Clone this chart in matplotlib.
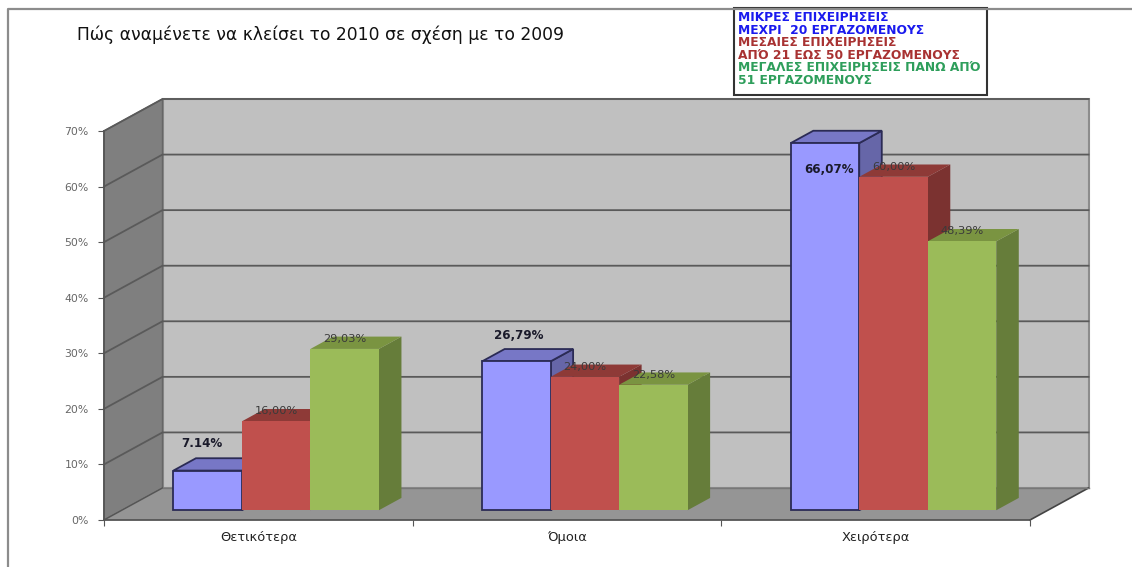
import matplotlib
matplotlib.use('Agg')
import matplotlib.pyplot as plt
from matplotlib.patches import Polygon, Rectangle
from matplotlib.lines import Line2D

W, H = 1132, 567

# Data
categories = ['Θετικότερα', 'Όμοια', 'Χειρότερα']
small_firms = [7.14, 26.79, 66.07]
medium_firms = [16.00, 24.00, 60.00]
large_firms = [29.03, 22.58, 48.39]
small_labels = ['7.14%', '26,79%', '66,07%']
medium_labels = ['16,00%', '24,00%', '60,00%']
large_labels = ['29,03%', '22,58%', '48,39%']
y_ticks = [0, 10, 20, 30, 40, 50, 60, 70]
title = 'Πώς αναμένετε να κλείσει το 2010 σε σχέση με το 2009'
legend_lines = ['ΜΙΚΡΕΣ ΕΠΙΧΕΙΡΗΣΕΙΣ', 'ΜΕΧΡΙ  20 ΕΡΓΑΖΟΜΕΝΟΥΣ',
                'ΜΕΣΑΙΕΣ ΕΠΙΧΕΙΡΗΣΕΙΣ', 'ΑΠΌ 21 ΕΩΣ 50 ΕΡΓΑΖΟΜΕΝΟΥΣ',
                'ΜΕΓΑΛΕΣ ΕΠΙΧΕΙΡΗΣΕΙΣ ΠΑΝΩ ΑΠΌ', '51 ΕΡΓΑΖΟΜΕΝΟΥΣ']
legend_colors = ['#1a1aee', '#1a1aee', '#a83232', '#a83232', '#2e9e5b', '#2e9e5b']

# Colours: front, top, side, edge
blue = ('#9999ff', '#7777c6', '#6666a8', '#2b2b55')
red = ('#c0504d', '#8e3a37', '#7b3230', '#c0504d')
green = ('#9bbb59', '#7a9441', '#667d3a', '#9bbb59')

plt.rcParams['font.family'] = ['DejaVu Sans']

fig = plt.figure(figsize=(W / 100, H / 100), dpi=100)
ax = fig.add_axes([104 / W, (H - 520) / H, (1030 - 104) / W, (520 - 131) / H])
ax.set_xlim(0, 3)
ax.set_ylim(0, 70)
ax.patch.set_visible(False)

# 3D box depth in data units
depth_x = 58.5 / (926 / 3)
depth_y = 32 / (389 / 70)
bar_w = 68.5 / (926 / 3)
bar_d0, bar_d1 = 0.305, 0.69


def pt(x, y, d=0.0):
    return (x + d * depth_x, y + d * depth_y)


def poly(points, face, edge='none', lw=0.0, z=1):
    ax.add_patch(Polygon(points, closed=True, facecolor=face, edgecolor=edge,
                         linewidth=lw, zorder=z, clip_on=False, joinstyle='miter'))


# Walls and floor
poly([pt(0, 0, 1), pt(3, 0, 1), pt(3, 70, 1), pt(0, 70, 1)], '#c0c0c0', '#8c8c8c', 1.5)
poly([pt(0, 0), pt(0, 0, 1), pt(0, 70, 1), pt(0, 70)], '#7f7f7f', '#666666', 1.0)
poly([pt(0, 0), pt(3, 0), pt(3, 0, 1), pt(0, 0, 1)], '#959595', 'none', 0, z=1.5)

# Gridlines on back and side wall
for v in y_ticks[1:]:
    xs = [pt(0, v)[0], pt(0, v, 1)[0], pt(3, v, 1)[0]]
    ys = [pt(0, v)[1], pt(0, v, 1)[1], pt(3, v, 1)[1]]
    ax.add_line(Line2D(xs, ys, color='#5a5a5a', lw=1.3, zorder=1.2, clip_on=False))
ax.add_line(Line2D(*zip(pt(3, 0), pt(3, 0, 1)), color='#444444', lw=1.2, zorder=1.6, clip_on=False))
ax.add_line(Line2D(*zip(pt(0, 0), pt(0, 0, 1)), color='#555555', lw=1.0, zorder=1.6, clip_on=False))
ax.add_line(Line2D(*zip(pt(0, 0, 1), pt(3, 0, 1)), color='#777777', lw=1.0, zorder=1.6, clip_on=False))


def draw_bar(i, k, value, colors, z):
    face, top, side, edge = colors
    x0 = i + 0.5 + (k - 1.5) * bar_w
    x1 = x0 + bar_w
    lw = 1.3 if k == 0 else 0.0
    ec = edge if k == 0 else 'none'
    poly([pt(x1, 0, bar_d0), pt(x1, 0, bar_d1), pt(x1, value, bar_d1), pt(x1, value, bar_d0)], side, ec, lw, z)
    poly([pt(x0, value, bar_d0), pt(x1, value, bar_d0), pt(x1, value, bar_d1), pt(x0, value, bar_d1)], top, ec, lw, z)
    poly([pt(x0, 0, bar_d0), pt(x1, 0, bar_d0), pt(x1, value, bar_d0), pt(x0, value, bar_d0)], face, ec, lw, z + 0.1)
    return pt((x0 + x1) / 2, value, bar_d0)


small_offsets = [(-6, 27), (2, 26), (4, -26)]
for i in range(len(categories)):
    tip = draw_bar(i, 0, small_firms[i], blue, 2)
    ax.annotate(small_labels[i], tip, xytext=small_offsets[i], textcoords='offset pixels',
                ha='center', va='center', fontsize=8.6, fontweight='bold', color='#1a1a2a', zorder=6)
    for k, (vals, cols, labs) in enumerate([(medium_firms, red, medium_labels), (large_firms, green, large_labels)], start=1):
        tip = draw_bar(i, k, vals[i], cols, 2 + k)
        ax.annotate(labs[i], tip, xytext=(0, 10), textcoords='offset pixels',
                    ha='center', va='center', fontsize=8.2, color='#3a3a3a', zorder=6)

# Axes
for s in ('top', 'right'):
    ax.spines[s].set_visible(False)
for s in ('left', 'bottom'):
    ax.spines[s].set_color('#555555')
    ax.spines[s].set_linewidth(1.3)
    ax.spines[s].set_zorder(1.7)
ax.set_yticks(y_ticks)
ax.set_yticklabels([f'{v}%' for v in y_ticks], fontsize=7.8, color='#666666')
ax.set_xticks([0, 1, 2, 3])
ax.set_xticklabels([])
ax.set_xticks([0.5, 1.5, 2.5], minor=True)
ax.set_xticklabels(categories, minor=True, fontsize=9.4, color='#222222')
ax.tick_params(axis='x', which='minor', length=0, pad=8)
ax.tick_params(axis='x', which='major', length=4, color='#555555')
ax.tick_params(axis='y', length=4, color='#555555', pad=7)

# Outer frame of the pasted picture
fig.add_artist(Line2D([8 / W, 8 / W, 1], [0, 1 - 9 / H, 1 - 9 / H], color='#8c8c8c', lw=1.6))

fig.text(77 / W, 1 - 35 / H, title, fontsize=12.3, color='#111111', va='center', ha='left')

# Legend box
fig.add_artist(Rectangle((734 / W, 1 - 95 / H), 253 / W, 87 / H, transform=fig.transFigure,
                         facecolor='white', edgecolor='#333333', linewidth=1.5))
for n, (line, col) in enumerate(zip(legend_lines, legend_colors)):
    fig.text(738 / W, 1 - (17.5 + n * 12.6) / H, line, color=col, fontsize=8.8,
             fontweight='bold', va='center', ha='left')

fig.savefig('out.png', dpi=100)
